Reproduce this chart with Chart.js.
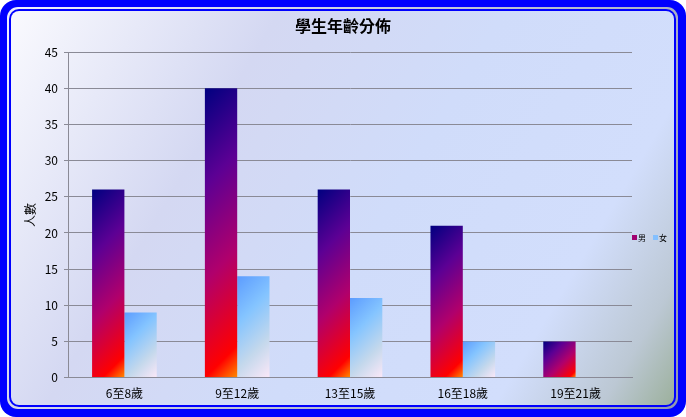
<!DOCTYPE html>
<html>
<head>
<meta charset="utf-8">
<script src="https://cdn.jsdelivr.net/npm/chart.js@4"></script>
<style>
  html, body { margin: 0; padding: 0; background: #fff; }
  canvas { display: block; }
</style>
</head>
<body>
<canvas id="ageChart" width="686" height="417"></canvas>
<script>
const categories = ["6至8歲", "9至12歲", "13至15歲", "16至18歲", "19至21歲"];
const maleCounts = [26, 40, 26, 21, 5];
const femaleCounts = [9, 14, 11, 5, 0];
const seriesNames = ["男", "女"];

const FONT = '"Noto Sans CJK TC", "Noto Sans CJK JP", sans-serif';
const CAT_PCT = 0.573;

const maleStops = [[0, "#000080"], [0.3, "#5c0094"], [0.6, "#b0006c"], [0.9, "#ff0000"], [1, "#ff8c00"]];
const femaleStops = [[0, "#5c9cff"], [0.35, "#84c4ff"], [0.7, "#c4d8ec"], [1, "#fbe8f8"]];

function rrect(ctx, x, y, w, h, r) {
    ctx.beginPath();
    ctx.moveTo(x + r, y);
    ctx.arcTo(x + w, y, x + w, y + h, r);
    ctx.arcTo(x + w, y + h, x, y + h, r);
    ctx.arcTo(x, y + h, x, y, r);
    ctx.arcTo(x, y, x + w, y, r);
    ctx.closePath();
}

// per-bar diagonal gradient, worked out from the scales
function barFill(stops, fallback) {
    return (c) => {
        const chart = c.chart;
        const xs = chart.scales.x, ys = chart.scales.y;
        if (!chart.chartArea || !xs || !ys || c.type !== "data") return fallback;
        const catW = xs.width / categories.length;
        const groupW = catW * CAT_PCT;
        const barW = groupW / 2;
        const left = xs.getPixelForValue(c.dataIndex) - groupW / 2 + c.datasetIndex * barW;
        const top = ys.getPixelForValue(c.raw);
        const base = ys.getPixelForValue(0);
        const h = Math.max(base - top, 1);
        const t = (barW + h) / 2;
        const g = chart.ctx.createLinearGradient(left, top, left + t, top + t);
        stops.forEach(s => g.addColorStop(s[0], s[1]));
        return g;
    };
}

const framePlugin = {
    id: "frame",
    afterLayout(chart) {
        // centre the title on the whole canvas, not on the padded area
        if (chart.titleBlock) {
            chart.titleBlock.left = 0;
            chart.titleBlock.right = chart.width;
        }
    },
    beforeDraw(chart) {
        const ctx = chart.ctx;
        const W = chart.width, H = chart.height;
        ctx.save();
        ctx.fillStyle = "#ffffff";
        ctx.fillRect(0, 0, W, H);
        rrect(ctx, 0, 0, W, H, 16);
        ctx.fillStyle = "#0000ff";
        ctx.fill();
        const edge = ctx.createLinearGradient(0, 0, W, H);
        edge.addColorStop(0, "#f0f0ff");
        edge.addColorStop(1, "#9098b0");
        rrect(ctx, 7, 7, W - 15, H - 15, 11);
        ctx.fillStyle = edge;
        ctx.fill();
        rrect(ctx, 9, 9, W - 19, H - 19, 10);
        ctx.fillStyle = "#0000ff";
        ctx.fill();
        const bg = ctx.createLinearGradient(11, 11, W - 12, H - 12);
        bg.addColorStop(0, "#fafafe");
        bg.addColorStop(0.3, "#d4d8f2");
        bg.addColorStop(0.55, "#d0dcfa");
        bg.addColorStop(0.8, "#d2defc");
        bg.addColorStop(0.92, "#bcc8d4");
        bg.addColorStop(1, "#9cb09c");
        rrect(ctx, 11, 11, W - 23, H - 23, 8);
        ctx.fillStyle = bg;
        ctx.fill();
        ctx.restore();
    }
};

const legendPlugin = {
    id: "sideLegend",
    afterDraw(chart) {
        const ctx = chart.ctx;
        const area = chart.chartArea;
        let x = area.right;
        const y = 237;
        ctx.save();
        ctx.font = "8px " + FONT;
        ctx.textBaseline = "middle";
        chart.data.datasets.forEach((ds, i) => {
            ctx.fillStyle = i === 0 ? "#a00070" : "#84c0ff";
            ctx.fillRect(x, y - 2, 5, 5);
            ctx.fillStyle = "#000";
            ctx.fillText(ds.label, x + 6, y + 1);
            x += 21;
        });
        ctx.restore();
    }
};

new Chart(document.getElementById("ageChart"), {
    type: "bar",
    data: {
        labels: categories,
        datasets: [
            {
                label: seriesNames[0],
                data: maleCounts,
                backgroundColor: barFill(maleStops, "#a00070"),
                borderWidth: 0
            },
            {
                label: seriesNames[1],
                data: femaleCounts,
                backgroundColor: barFill(femaleStops, "#84c0ff"),
                borderWidth: 0
            }
        ]
    },
    options: {
        responsive: false,
        animation: false,
        devicePixelRatio: 1,
        categoryPercentage: CAT_PCT,
        barPercentage: 1,
        layout: { padding: { left: 12, right: 54, top: 12, bottom: 7 } },
        plugins: {
            legend: { display: false },
            tooltip: { enabled: false },
            title: {
                display: true,
                text: "學生年齡分佈",
                color: "#000",
                font: { family: FONT, size: 16, weight: "bold" },
                padding: { top: 4, bottom: 17 }
            }
        },
        scales: {
            x: {
                grid: { display: false, drawTicks: false },
                border: { display: true, color: "#8a8a96" },
                ticks: { color: "#000", padding: 9, font: { family: FONT, size: 12 } }
            },
            y: {
                min: 0,
                max: 45,
                ticks: { stepSize: 5, color: "#000", padding: 6, font: { family: FONT, size: 12 } },
                grid: { color: "#8a8a96", tickLength: 4, tickColor: "#8a8a96" },
                border: { display: true, color: "#8a8a96" },
                title: {
                    display: true,
                    text: "人數",
                    color: "#000",
                    font: { family: FONT, size: 12 },
                    padding: { top: 11, bottom: 0 }
                },
                afterFit(scale) { scale.width = 56; }
            }
        }
    },
    plugins: [framePlugin, legendPlugin]
});
</script>
</body>
</html>
